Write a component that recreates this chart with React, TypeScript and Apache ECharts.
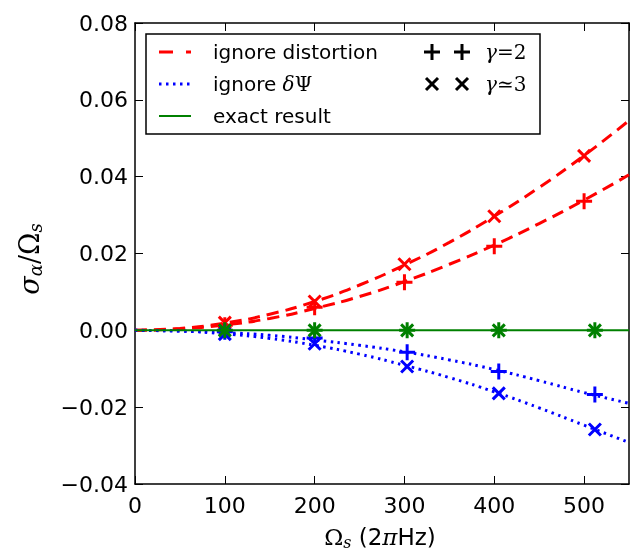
import React, { useEffect, useRef } from "react";
import * as echarts from "echarts";

// curve sample positions (Omega_s, 2πHz)
const curveX = [0, 50, 100, 150, 200, 250, 300, 350, 400, 450, 500, 550];
// ignore distortion (red dashed)
const redG3Curve = [0, 0.0005, 0.0019, 0.0042, 0.0075, 0.0118, 0.017, 0.0229, 0.0297, 0.0372, 0.0455, 0.0546];
const redG2Curve = [0, 0.0004, 0.0014, 0.0031, 0.0057, 0.0088, 0.0127, 0.0172, 0.0222, 0.0278, 0.0339, 0.0405];
// ignore δΨ (blue dotted)
const blueG2Curve = [0, -0.0002, -0.0006, -0.0013, -0.0025, -0.0039, -0.0056, -0.0077, -0.0102, -0.0131, -0.0162, -0.019];
const blueG3Curve = [0, -0.0002, -0.0009, -0.0021, -0.0039, -0.0062, -0.0091, -0.0123, -0.016, -0.0202, -0.0247, -0.0292];
// exact result (green)
const exactX = [0, 550];
const exactY = [0, 0];

// markers
const redMarkX = [100, 200, 300, 400, 500];
const redPlus = [0.0013, 0.006, 0.0125, 0.0219, 0.0336];
const redCross = [0.002, 0.0075, 0.0172, 0.0297, 0.0454];
const otherMarkX = [100, 200, 303, 405, 512];
const bluePlus = [-0.0004, -0.002, -0.0057, -0.0107, -0.0167];
const blueCross = [-0.001, -0.0035, -0.0094, -0.0164, -0.0258];
const greenMarks = [0, 0, 0, 0, 0];

const xMin = 0, xMax = 550, xStep = 100;
const yMin = -0.04, yMax = 0.08, yStep = 0.02;

const RED = "#ff0000";
const BLUE = "#0000ff";
const GREEN = "#008000";
const PLUS = "path://M0,5L10,5M5,0L5,10";
const CROSS = "path://M0,0L10,10M0,10L10,0";

const zip = (xs: number[], ys: number[]) => xs.map((x, i) => [x, ys[i]]);

const SANS = "DejaVu Sans";
const SERIF = "DejaVu Serif";

export default function App() {
  const ref = useRef<HTMLDivElement>(null);
  useEffect(() => {
    if (!ref.current) return;
    const chart = echarts.init(ref.current, null, { renderer: "svg" });

    const curve = (ys: number[], color: string, dash: number[], width: number) => ({
      type: "line",
      data: zip(curveX, ys),
      smooth: true,
      showSymbol: false,
      symbol: "none",
      lineStyle: { color, width, type: dash },
      z: 2,
    });
    const marks = (xs: number[], ys: number[], color: string, sym: string, size: number) => ({
      type: "scatter",
      data: zip(xs, ys),
      symbol: sym,
      symbolSize: size,
      itemStyle: { color: "rgba(0,0,0,0)", borderColor: color, borderWidth: 3, opacity: 1 },
      z: 3,
    });

    const axisLineStyle = { onZero: false, lineStyle: { color: "#000", width: 1.5 } };
    const tick = { show: true, inside: true, length: 8, lineStyle: { color: "#000", width: 1 } };

    const yFmt = (v: number) => {
      if (Math.abs(v) < 1e-9) return "0.00";
      const s = v.toFixed(2);
      return s.replace("-", "\u2212");
    };

    const legendX = 146, legendY = 34;
    const rowY = [52, 84, 116];

    chart.setOption({
      animation: false,
      grid: { left: 135, right: 9, top: 23, bottom: 68, containLabel: false },
      xAxis: [
        {
          type: "value",
          min: xMin,
          max: xMax,
          interval: xStep,
          axisLine: axisLineStyle,
          axisTick: tick,
          splitLine: { show: false },
          axisLabel: {
            color: "#000",
            fontFamily: SANS,
            fontSize: 22,
            margin: 10,
            showMaxLabel: false,
          },
        },
        {
          type: "value",
          position: "top",
          min: xMin,
          max: xMax,
          interval: xStep,
          axisLine: axisLineStyle,
          axisTick: tick,
          splitLine: { show: false },
          axisLabel: { show: false },
        },
      ],
      yAxis: [
        {
          type: "value",
          min: yMin,
          max: yMax,
          interval: yStep,
          axisLine: axisLineStyle,
          axisTick: tick,
          splitLine: { show: false },
          axisLabel: {
            color: "#000",
            fontFamily: SANS,
            fontSize: 22,
            margin: 7,
            formatter: yFmt,
          },
        },
        {
          type: "value",
          position: "right",
          min: yMin,
          max: yMax,
          interval: yStep,
          axisLine: axisLineStyle,
          axisTick: tick,
          splitLine: { show: false },
          axisLabel: { show: false },
        },
      ],
      series: [
        curve(redG3Curve, RED, [12, 7], 3),
        curve(redG2Curve, RED, [12, 7], 3),
        curve(blueG2Curve, BLUE, [2.5, 4.5], 3),
        curve(blueG3Curve, BLUE, [2.5, 4.5], 3),
        {
          type: "line",
          data: zip(exactX, exactY),
          showSymbol: false,
          symbol: "none",
          lineStyle: { color: GREEN, width: 2 },
          z: 2,
        },
        marks(redMarkX, redPlus, RED, PLUS, 16),
        marks(redMarkX, redCross, RED, CROSS, 12),
        marks(otherMarkX, bluePlus, BLUE, PLUS, 16),
        marks(otherMarkX, blueCross, BLUE, CROSS, 12),
        marks(otherMarkX, greenMarks, GREEN, PLUS, 16),
        marks(otherMarkX, greenMarks, GREEN, CROSS, 12),
      ],
      graphic: [
        {
          type: "group",
          z: 100,
          children: [
            {
              type: "rect",
              shape: { x: legendX, y: legendY, width: 394, height: 100 },
              style: { fill: "#fff", stroke: "#000", lineWidth: 1.5 },
            },
            {
              type: "line",
              shape: { x1: 159, y1: rowY[0], x2: 191, y2: rowY[0] },
              style: { stroke: RED, lineWidth: 3, lineDash: [14, 13] },
            },
            {
              type: "line",
              shape: { x1: 159, y1: rowY[1], x2: 191, y2: rowY[1] },
              style: { stroke: BLUE, lineWidth: 3, lineDash: [2.5, 4.5] },
            },
            {
              type: "line",
              shape: { x1: 159, y1: rowY[2], x2: 191, y2: rowY[2] },
              style: { stroke: GREEN, lineWidth: 2 },
            },
            {
              type: "text",
              x: 213,
              y: rowY[0],
              style: {
                text: "ignore distortion",
                font: `20px "${SANS}"`,
                fill: "#000",
                verticalAlign: "middle",
              },
            },
            {
              type: "text",
              x: 213,
              y: rowY[1],
              style: {
                text: "{a|ignore }{b|δ}{c|Ψ}",
                verticalAlign: "middle",
                rich: {
                  a: { fontFamily: SANS, fontSize: 20, fill: "#000" },
                  b: { fontFamily: SERIF, fontStyle: "italic", fontSize: 20, fill: "#000" },
                  c: { fontFamily: SERIF, fontSize: 20, fill: "#000" },
                },
              },
            },
            {
              type: "text",
              x: 213,
              y: rowY[2],
              style: {
                text: "exact result",
                font: `20px "${SANS}"`,
                fill: "#000",
                verticalAlign: "middle",
              },
            },
            // + + and x x markers
            ...[432, 462].flatMap((cx) => [
              {
                type: "line",
                shape: { x1: cx - 8, y1: rowY[0], x2: cx + 8, y2: rowY[0] },
                style: { stroke: "#000", lineWidth: 3 },
              },
              {
                type: "line",
                shape: { x1: cx, y1: rowY[0] - 8, x2: cx, y2: rowY[0] + 8 },
                style: { stroke: "#000", lineWidth: 3 },
              },
              {
                type: "line",
                shape: { x1: cx - 6, y1: rowY[1] - 6, x2: cx + 6, y2: rowY[1] + 6 },
                style: { stroke: "#000", lineWidth: 3 },
              },
              {
                type: "line",
                shape: { x1: cx - 6, y1: rowY[1] + 6, x2: cx + 6, y2: rowY[1] - 6 },
                style: { stroke: "#000", lineWidth: 3 },
              },
            ]),
            {
              type: "text",
              x: 485,
              y: rowY[0],
              style: {
                text: "{g|γ}{r|=2}",
                verticalAlign: "middle",
                rich: {
                  g: { fontFamily: SERIF, fontStyle: "italic", fontSize: 20, fill: "#000" },
                  r: { fontFamily: SERIF, fontSize: 20, fill: "#000" },
                },
              },
            },
            {
              type: "text",
              x: 485,
              y: rowY[1],
              style: {
                text: "{g|γ}{r|≃3}",
                verticalAlign: "middle",
                rich: {
                  g: { fontFamily: SERIF, fontStyle: "italic", fontSize: 20, fill: "#000" },
                  r: { fontFamily: SERIF, fontSize: 20, fill: "#000" },
                },
              },
            },
          ],
        },
        // y axis title
        {
          type: "text",
          x: 29,
          y: 259,
          rotation: Math.PI / 2,
          z: 100,
          style: {
            text: "{i|σ}{s|α}{r|/Ω}{s|s}",
            align: "center",
            verticalAlign: "middle",
            rich: {
              i: { fontFamily: SERIF, fontStyle: "italic", fontSize: 27, fill: "#000" },
              r: { fontFamily: SERIF, fontSize: 27, fill: "#000" },
              s: { fontFamily: SERIF, fontStyle: "italic", fontSize: 18, fill: "#000", padding: [13, 0, 0, 0] },
            },
          },
        },
        // x axis title
        {
          type: "text",
          x: 380,
          y: 537,
          z: 100,
          style: {
            text: "{r|Ω}{s|s}{a| (2}{p|π}{a|Hz)}",
            align: "center",
            verticalAlign: "middle",
            rich: {
              r: { fontFamily: SERIF, fontSize: 23, fill: "#000" },
              s: { fontFamily: SERIF, fontStyle: "italic", fontSize: 16, fill: "#000", padding: [10, 0, 0, 0] },
              a: { fontFamily: SANS, fontSize: 23, fill: "#000" },
              p: { fontFamily: SERIF, fontStyle: "italic", fontSize: 23, fill: "#000" },
            },
          },
        },
      ],
    });
    return () => chart.dispose();
  }, []);
  return (
    <div
      ref={ref}
      style={{ position: "fixed", left: 0, top: 0, width: 638, height: 552 }}
    />
  );
}
